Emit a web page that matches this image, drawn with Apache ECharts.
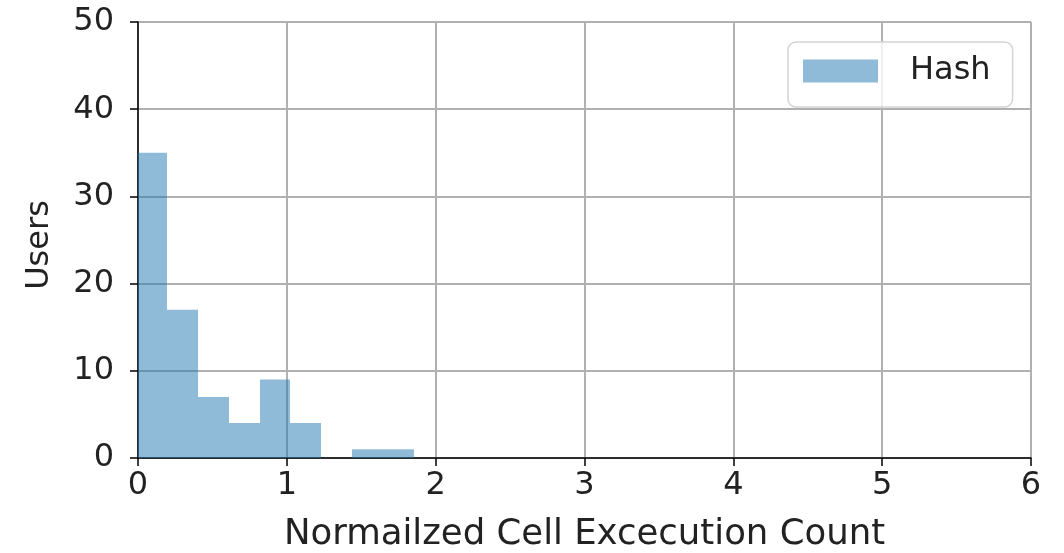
<!DOCTYPE html>
<html>
<head>
<meta charset="utf-8">
<script src="https://cdn.jsdelivr.net/npm/echarts@6/dist/echarts.min.js"></script>
<style>
  html, body { margin: 0; padding: 0; background: #fff; }
  #chart { width: 1064px; height: 553px; }
</style>
</head>
<body>
<div id="chart"></div>
<script>
// Histogram of normalized cell execution counts per user
const binEdges = [0, 0.193, 0.401, 0.609, 0.817, 1.024, 1.232, 1.440, 1.648, 1.855];
const userCounts = [35, 17, 7, 4, 9, 4, 0, 1, 1];
const xTicks = [0, 1, 2, 3, 4, 5, 6];
const yTicks = [0, 10, 20, 30, 40, 50];
const seriesName = 'Hash';

const FONT = '"DejaVu Sans", sans-serif';
const BAR_FILL = 'rgba(31,119,180,0.5)';

const bins = userCounts.map((c, i) => [binEdges[i], binEdges[i + 1], c]);

const chart = echarts.init(document.getElementById('chart'), null, { renderer: 'canvas' });

chart.setOption({
  animation: false,
  backgroundColor: '#ffffff',
  grid: { left: 138, right: 33, top: 22, bottom: 95, containLabel: false, outerBoundsMode: 'none' },
  legend: {
    data: [{ name: seriesName, icon: 'rect' }],
    left: 788,
    top: 42,
    itemWidth: 75,
    itemHeight: 23,
    itemGap: 10,
    padding: [13, 22, 20, 15],
    borderColor: '#d4d4d4',
    borderWidth: 1.5,
    borderRadius: 8,
    backgroundColor: 'rgba(255,255,255,0.8)',
    textStyle: { fontFamily: FONT, fontSize: 32, color: '#222', padding: [0, 0, 0, 27] }
  },
  xAxis: {
    type: 'value',
    min: xTicks[0],
    max: xTicks[xTicks.length - 1],
    interval: 1,
    name: 'Normailzed Cell Excecution Count',
    nameLocation: 'middle',
    nameGap: 59,
    nameTextStyle: { fontFamily: FONT, fontSize: 35.5, color: '#222' },
    axisLine: { onZero: false, lineStyle: { color: '#000', width: 1.5 } },
    axisTick: { show: true, length: 8, inside: false, lineStyle: { color: '#000', width: 1.5 } },
    axisLabel: { fontFamily: FONT, fontSize: 32, color: '#222', margin: 12 },
    splitLine: { show: true, lineStyle: { color: '#b0b0b0', width: 2 } }
  },
  yAxis: {
    type: 'value',
    min: yTicks[0],
    max: yTicks[yTicks.length - 1],
    interval: 10,
    name: 'Users',
    nameLocation: 'middle',
    nameGap: 82,
    nameTextStyle: { fontFamily: FONT, fontSize: 32, color: '#222', padding: [0, 10, 0, 0] },
    axisLine: { show: true, lineStyle: { color: '#000', width: 1.5 } },
    axisTick: { show: true, length: 8, lineStyle: { color: '#000', width: 1.5 } },
    axisLabel: { fontFamily: FONT, fontSize: 32, color: '#222', margin: 24 },
    splitLine: { show: true, lineStyle: { color: '#b0b0b0', width: 2 } }
  },
  series: [{
    name: seriesName,
    type: 'custom',
    itemStyle: { color: BAR_FILL },
    encode: { x: [0, 1], y: 2 },
    data: bins,
    clip: true,
    renderItem: function (params, api) {
      const p0 = api.coord([api.value(0), 0]);
      const p1 = api.coord([api.value(1), api.value(2)]);
      // snap the vertical edges to whole pixels so neighbouring bars meet without seams
      const x0 = Math.round(p0[0]);
      const x1 = Math.round(p1[0]);
      return {
        type: 'rect',
        shape: { x: x0, y: p1[1], width: x1 - x0, height: p0[1] - p1[1] },
        style: { fill: BAR_FILL }
      };
    }
  }]
});
</script>
</body>
</html>
